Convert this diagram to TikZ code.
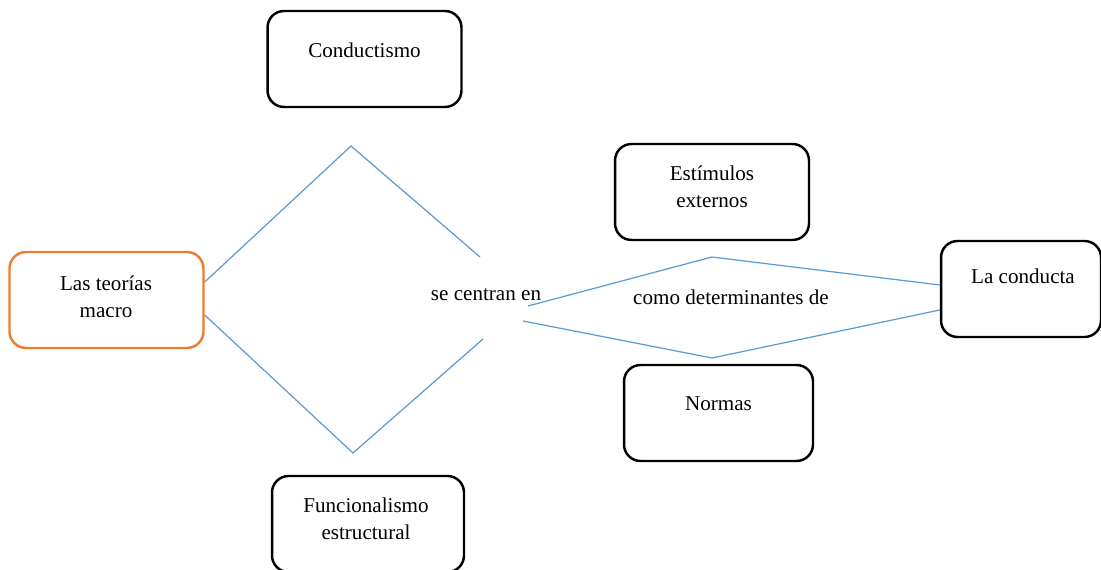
\documentclass[tikz,border=0pt]{standalone}
\usepackage{fontspec}
\setmainfont{Liberation Serif}
\definecolor{naranja}{RGB}{237,125,49}
\definecolor{azul}{RGB}{91,155,213}
\tikzset{
  caja/.style={draw=black, line width=1.4pt, rounded corners=0.33cm, minimum width=3.88cm, minimum height=1.92cm, inner sep=0pt},
  texto/.style={align=center, font=\fontsize{12}{15.3}\selectfont, inner sep=0pt},
  enlace/.style={draw=azul, line width=0.7pt},
}

\begin{document}
\begin{tikzpicture}[x=0.02cm, y=-0.02cm]
    \useasboundingbox (0,0) rectangle (1101,570);

    \node[caja, draw=naranja] (teorias) at (106.5,300) {};
    \node[texto] (teorias-t) at (106,297) {Las teorías\\macro};

    \node[caja] (conductismo) at (364.5,59) {};
    \node[texto] (conductismo-t) at (364.5,50) {Conductismo};

    \node[caja, minimum width=3.84cm] (funcionalismo) at (368,524) {};
    \node[texto] (funcionalismo-t) at (366,519) {Funcionalismo\\estructural};

    \node[caja] (estimulos) at (712,192) {};
    \node[texto] (estimulos-t) at (712,187) {Estímulos\\externos};

    \node[caja, minimum width=3.78cm] (normas) at (718.5,413) {};
    \node[texto] (normas-t) at (718.5,404) {Normas};

    \node[caja, minimum width=3.2cm] (conducta) at (1021,289) {};
    \node[texto] (conducta-t) at (1023,276) {La conducta};

    \node[texto] (centran) at (486,295) {se centran en};
    \node[texto] (determinantes) at (731,297) {como determinantes de};

    % puntos de quiebre
    \coordinate (arriba) at (351,146);
    \coordinate (abajo) at (353,453);
    \coordinate (fin-a) at (480,257);
    \coordinate (fin-b) at (483,339);
    \coordinate (ini-c) at (528,306);
    \coordinate (ini-d) at (523,321);
    \coordinate (pico-c) at (712,257);
    \coordinate (pico-d) at (712,358);

    \draw[enlace] ([yshift=0.36cm]teorias.east) -- (arriba) -- (fin-a);
    \draw[enlace] ([yshift=-0.30cm]teorias.east) -- (abajo) -- (fin-b);
    \draw[enlace] (ini-c) -- (pico-c) -- ([yshift=0.08cm]conducta.west);
    \draw[enlace] (ini-d) -- (pico-d) -- ([yshift=-0.42cm]conducta.west);

\end{tikzpicture}
\end{document}
